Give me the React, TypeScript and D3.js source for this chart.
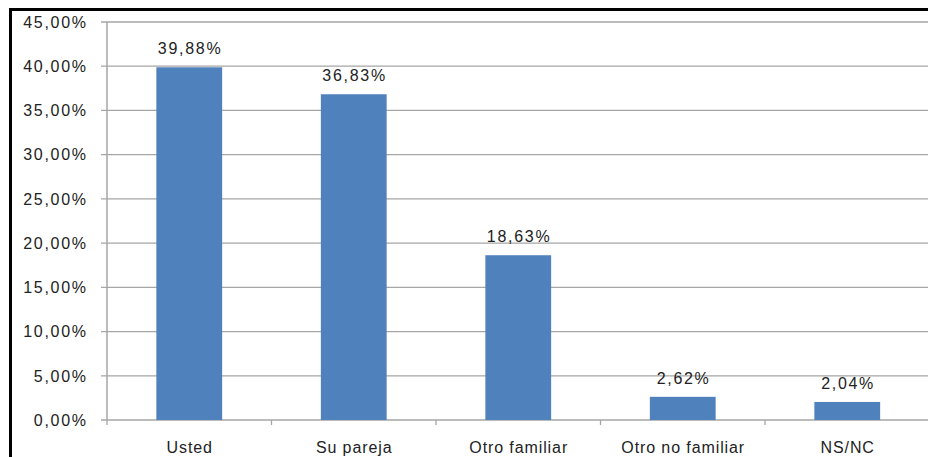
import React from "react";
import * as d3 from "d3";

const categories = ["Usted", "Su pareja", "Otro familiar", "Otro no familiar", "NS/NC"];
const values = [39.88, 36.83, 18.63, 2.62, 2.04];
const valueLabels = ["39,88%", "36,83%", "18,63%", "2,62%", "2,04%"];
const yTicks = [0, 5, 10, 15, 20, 25, 30, 35, 40, 45];

const W = 928;
const H = 457;
const left = 107;
const right = 929.5;
const top = 22;
const bottom = 420;

export default function App() {
  const x = d3.scaleBand<string>().domain(categories).range([left, right]).paddingInner(0.6).paddingOuter(0.3);
  const xb = d3.scaleBand<string>().domain(categories).range([left, right]);
  const y = d3.scaleLinear().domain([0, 45]).range([bottom, top]);
  const fmt = (v: number) => v.toFixed(2).replace(".", ",") + "%";
  const font = "'Liberation Sans', Arial, sans-serif";
  const fs = 16;
  const numLS = 1.7;
  const catLS = 0.9;
  return (
    <svg width={W} height={H} style={{ position: "absolute", left: 0, top: 0, background: "#fff" }} fontFamily={font}>
      {/* frame */}
      <line x1={10.5} y1={8} x2={10.5} y2={H} stroke="#000" strokeWidth={3} />
      <line x1={9} y1={9.5} x2={W} y2={9.5} stroke="#000" strokeWidth={3} />
      {/* gridlines */}
      {yTicks.map((t) => (
        <g key={t}>
          <line x1={left - 6} x2={W} y1={y(t)} y2={y(t)} stroke="#a6a6a6" strokeWidth={1.3} />
          <text x={86 + numLS} y={y(t)} dy="0.36em" textAnchor="end" fontSize={fs} fill="#222" letterSpacing={numLS}>
            {fmt(t)}
          </text>
        </g>
      ))}
      {/* y axis */}
      <line x1={left} x2={left} y1={top} y2={bottom} stroke="#a6a6a6" strokeWidth={1.5} />
      {/* x ticks */}
      {categories.map((c, i) => (
        <line key={"t" + i} x1={(xb(c) as number)} x2={(xb(c) as number)} y1={bottom} y2={bottom + 5} stroke="#a6a6a6" strokeWidth={1.3} />
      ))}
      {/* bars */}
      {categories.map((c, i) => (
        <rect key={c} x={x(c)} y={y(values[i])} width={x.bandwidth()} height={bottom - y(values[i])} fill="#4f81bd" />
      ))}
      {/* value labels */}
      {categories.map((c, i) => (
        <text key={"v" + i} x={(x(c) as number) + x.bandwidth() / 2 + numLS / 2} y={y(values[i]) - 13} textAnchor="middle" fontSize={fs} fill="#222" letterSpacing={numLS}>
          {valueLabels[i]}
        </text>
      ))}
      {/* category labels */}
      {categories.map((c) => (
        <text key={"c" + c} x={(xb(c) as number) + xb.bandwidth() / 2 + catLS / 2} y={453} textAnchor="middle" fontSize={fs} fill="#222" letterSpacing={catLS}>
          {c}
        </text>
      ))}
    </svg>
  );
}
